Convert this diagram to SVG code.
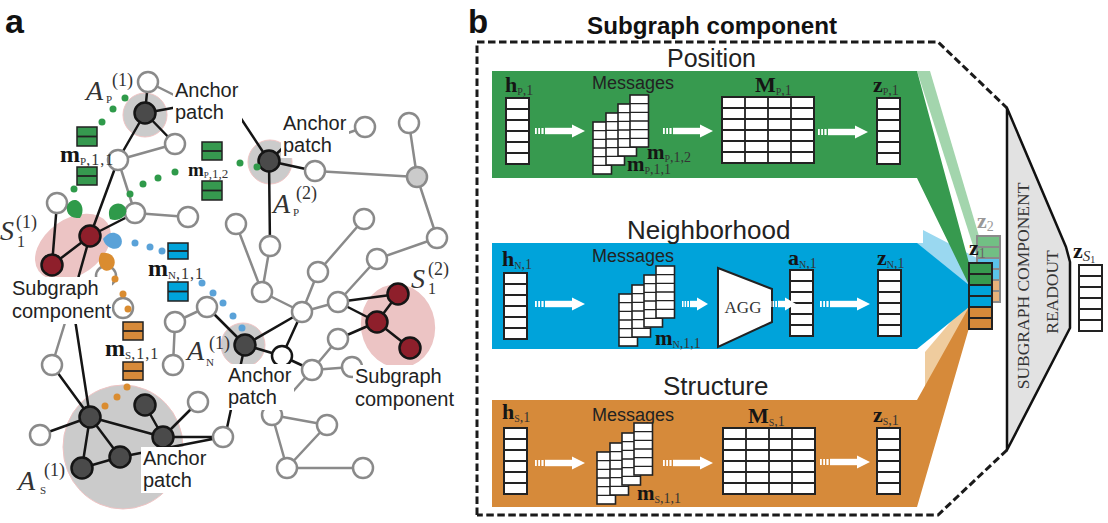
<svg xmlns="http://www.w3.org/2000/svg" width="1108" height="523" viewBox="0 0 1108 523">
<style>
.e{stroke:#8a8a8a;stroke-width:2.5;fill:none}
.k{stroke:#151515;stroke-width:2.5;fill:none}
.w{fill:#fff;stroke:#8a8a8a;stroke-width:2.5}
.wk{fill:#fff;stroke:#151515;stroke-width:2.5}
.g{fill:#cbcbcb;stroke:#8a8a8a;stroke-width:2.5}
.d{fill:#4a4a4a;stroke:#151515;stroke-width:2.5}
.r{fill:#8e1f2b;stroke:#151515;stroke-width:2.5}
.patch{fill:#cbcbcb;stroke:#efc4c4;stroke-width:1}
.pink{fill:#ecc4c4}
.lbl{font-family:"Liberation Sans",Arial,sans-serif;font-size:20px;fill:#222}
.bg{fill:#fff}
.mi{font-family:"Liberation Serif","Times New Roman",serif;font-style:italic;fill:#333}
.mr{font-family:"Liberation Serif","Times New Roman",serif;fill:#333}
.mb{font-family:"Liberation Serif","Times New Roman",serif;font-weight:bold;fill:#151515}
.sub{font-family:"Liberation Serif","Times New Roman",serif;font-weight:normal;fill:#333}
.gd{fill:#2f9a4a}.bd{fill:#5aa2d8}.od{fill:#da8c30}
.gb{fill:#36994f;stroke:#222;stroke-width:1.5}
.bb{fill:#00a3da;stroke:#222;stroke-width:1.5}
.ob{fill:#d68a3a;stroke:#222;stroke-width:1.5}
.cell{fill:#fff;stroke:#222;stroke-width:2}
.ln{stroke:#222;stroke-width:1.8;fill:none}
.sans{font-family:"Liberation Sans",Arial,sans-serif;fill:#222}
.arw{fill:#fff}
</style>
<defs>
<g id="vec"><rect class="cell" x="0" y="0" width="23" height="66"/><path class="ln" d="M0,11h23M0,22h23M0,33h23M0,44h23M0,55h23"/></g>
<g id="mat"><rect class="cell" x="0" y="0" width="92" height="66"/><path class="ln" d="M0,11h92M0,22h92M0,33h92M0,44h92M0,55h92M23,0v66M46,0v66M69,0v66"/></g>
<g id="col"><rect x="0" y="0" width="18.5" height="52" fill="#fff" stroke="#222" stroke-width="1.6"/><path d="M0,8.67h18.5M0,17.33h18.5M0,26h18.5M0,34.67h18.5M0,43.33h18.5" stroke="#222" stroke-width="1.4"/></g>
<g id="arr" class="arw"><rect x="0" y="-3" width="1.8" height="6"/><rect x="3.2" y="-3" width="1.8" height="6"/><rect x="6.4" y="-3" width="2.2" height="6"/><rect x="10" y="-3.2" width="28" height="6.4"/><path d="M37,-6.5L50,0L37,6.5Z"/></g>
<g id="arrs" class="arw"><rect x="0" y="-3" width="1.5" height="6"/><rect x="2.6" y="-3" width="1.5" height="6"/><rect x="5.2" y="-3" width="1.8" height="6"/><rect x="8" y="-3.2" width="8" height="6.4"/><path d="M15,-6.5L26,0L15,6.5Z"/></g>
<path id="leaf" d="M0,0 C-3,-7 -12,-10 -17,-6 C-22,-1 -18,8 -10,8 C-5,8 -2,4 0,0Z"/>
</defs>
<rect width="1108" height="523" fill="#fff"/>

<!-- ===== Panel a ===== -->
<text x="5" y="33" font-family="Liberation Sans,Arial,sans-serif" font-weight="bold" font-size="34" fill="#111">a</text>

<g id="patches">
<ellipse class="pink" cx="73" cy="247" rx="42" ry="28" transform="rotate(-35 73 247)"/>
<ellipse class="pink" cx="398" cy="326" rx="37" ry="42" transform="rotate(-10 398 326)"/>
<circle class="patch" cx="145" cy="115" r="22"/>
<circle class="patch" cx="270" cy="162" r="22"/>
<circle class="patch" cx="243" cy="345" r="22"/>
<ellipse class="patch" cx="123" cy="447" rx="60" ry="62"/>
</g>

<g id="connectors">
<path class="e" d="M148,82L178,97M118,160L175,144M118,160L135,213M135,213L188,217M236,224L262,292M270,246L262,292M262,292L302,312M302,312L338,302M302,312L318,272M318,272L364,219M377,259L338,302M377,259L437,238M437,238L417,177M417,177L409,123M417,177L315,171M365,127L345,134M312,370L338,339M312,370L352,367M312,370L272,415M272,415L327,425M272,415L287,468M327,425L287,468M287,468L363,468M207,307L175,322M175,322L173,365M72,300L52,365"/>
<path class="k" d="M148,82L145,113M145,113L175,144M145,113L118,160M145,113L178,107M118,160L90,236M90,236L135,213M90,236L52,265M57,203L52,265M269,161L238,114M269,161L288,143M269,161L315,171M269,161L270,246M245,345L302,312M245,345L282,356M282,356L302,312M245,345L207,307M282,356L312,370M245,345L225,437M338,302L398,294M338,302L377,322M398,294L377,322M377,322L410,348M338,339L377,322M90,236L72,300M72,300L90,417M90,417L52,365M90,417L40,435M90,417L82,468M90,417L120,457M90,417L163,437M145,405L163,437M163,437L198,402M120,457L82,468M163,437L223,437M120,457L223,437"/>
</g>

<g id="nodes">
<g id="n1"><circle class="w" cx="148" cy="82" r="10"/></g>
<g id="n2"><circle class="w" cx="175" cy="144" r="10"/></g>
<g id="n3"><circle class="w" cx="118" cy="160" r="10"/></g>
<g id="n4"><circle class="w" cx="57" cy="203" r="10"/></g>
<g id="n5"><circle class="w" cx="135" cy="213" r="10"/></g>
<g id="n6"><circle class="w" cx="188" cy="217" r="10"/></g>
<g id="n7"><circle class="w" cx="236" cy="224" r="10"/></g>
<g id="n8"><circle class="w" cx="365" cy="127" r="10"/></g>
<g id="n9"><circle class="w" cx="409" cy="123" r="10"/></g>
<g id="n10"><circle class="w" cx="315" cy="171" r="10"/></g>
<g id="n11"><circle class="g" cx="417" cy="177" r="10"/></g>
<g id="n12"><circle class="w" cx="270" cy="246" r="10"/></g>
<g id="n13"><circle class="w" cx="364" cy="219" r="10"/></g>
<g id="n14"><circle class="w" cx="437" cy="238" r="10"/></g>
<g id="n15"><circle class="w" cx="377" cy="259" r="10"/></g>
<g id="n16"><circle class="w" cx="318" cy="272" r="10"/></g>
<g id="n17"><circle class="w" cx="262" cy="292" r="10"/></g>
<g id="n18"><circle class="w" cx="302" cy="312" r="10"/></g>
<g id="n19"><circle class="w" cx="338" cy="302" r="10"/></g>
<g id="n20"><circle class="w" cx="338" cy="339" r="10"/></g>
<g id="n21"><circle class="wk" cx="282" cy="356" r="10"/></g>
<g id="n22"><circle class="w" cx="312" cy="370" r="10"/></g>
<g id="n23"><circle class="w" cx="352" cy="367" r="10"/></g>
<g id="n24"><circle class="w" cx="207" cy="307" r="10"/></g>
<g id="n25"><circle class="w" cx="175" cy="322" r="10"/></g>
<g id="n26"><circle class="w" cx="173" cy="365" r="10"/></g>
<g id="n27"><circle class="w" cx="52" cy="365" r="10"/></g>
<g id="n28"><circle class="w" cx="106" cy="276" r="10"/></g>
<g id="n29"><circle class="w" cx="123" cy="308" r="10"/></g>
<g id="n30"><circle class="w" cx="198" cy="402" r="10"/></g>
<g id="n31"><circle class="w" cx="40" cy="435" r="10"/></g>
<g id="n32"><circle class="w" cx="223" cy="437" r="10"/></g>
<g id="n33"><circle class="w" cx="272" cy="415" r="10"/></g>
<g id="n34"><circle class="w" cx="327" cy="425" r="10"/></g>
<g id="n35"><circle class="w" cx="287" cy="468" r="10"/></g>
<g id="n36"><circle class="w" cx="363" cy="468" r="10"/></g>
<g id="anchorP1"><circle class="d" cx="145" cy="113" r="10.5"/></g>
<g id="anchorP2"><circle class="d" cx="269" cy="161" r="10.5"/></g>
<g id="anchorN1"><circle class="d" cx="245" cy="345" r="10.5"/></g>
<g id="anchorS1a"><circle class="d" cx="90" cy="417" r="10.5"/></g>
<g id="anchorS1b"><circle class="d" cx="145" cy="405" r="10.5"/></g>
<g id="anchorS1c"><circle class="d" cx="163" cy="437" r="10.5"/></g>
<g id="anchorS1d"><circle class="d" cx="120" cy="457" r="10.5"/></g>
<g id="anchorS1e"><circle class="d" cx="82" cy="468" r="10.5"/></g>
<g id="sub1a"><circle class="r" cx="90" cy="236" r="10.5"/></g>
<g id="sub1b"><circle class="r" cx="52" cy="265" r="10.5"/></g>
<g id="sub2a"><circle class="r" cx="398" cy="294" r="10.5"/></g>
<g id="sub2b"><circle class="r" cx="377" cy="322" r="10.5"/></g>
<g id="sub2c"><circle class="r" cx="410" cy="348" r="10.5"/></g>
</g>

<g id="labels-a">
<rect class="bg" x="173" y="79" width="69" height="46"/>
<text class="lbl" x="175" y="97">Anchor</text><text class="lbl" x="175" y="119">patch</text>
<rect class="bg" x="281" y="112" width="68" height="46"/>
<text class="lbl" x="283" y="130">Anchor</text><text class="lbl" x="283" y="152">patch</text>
<rect class="bg" x="226" y="364" width="68" height="46"/>
<text class="lbl" x="228" y="382">Anchor</text><text class="lbl" x="228" y="404">patch</text>
<rect class="bg" x="141" y="447" width="68" height="46"/>
<text class="lbl" x="143" y="465">Anchor</text><text class="lbl" x="143" y="487">patch</text>
<rect class="bg" x="10" y="277" width="102" height="47"/>
<text class="lbl" x="12" y="295">Subgraph</text><text class="lbl" x="12" y="318">component</text>
<rect class="bg" x="353" y="365" width="102" height="47"/>
<text class="lbl" x="355" y="383">Subgraph</text><text class="lbl" x="355" y="406">component</text>

<text class="mi" x="86" y="100" font-size="28">A</text><text class="mr" x="106" y="103" font-size="11">P</text><text class="mr" x="112" y="86" font-size="18">(1)</text>
<text class="mi" x="273" y="213" font-size="28">A</text><text class="mr" x="293" y="216" font-size="11">P</text><text class="mr" x="296" y="199" font-size="18">(2)</text>
<text class="mi" x="187" y="360" font-size="28">A</text><text class="mr" x="206" y="366" font-size="11">N</text><text class="mr" x="209" y="349" font-size="18">(1)</text>
<text class="mi" x="18" y="490" font-size="28">A</text><text class="mr" x="40" y="494" font-size="11">S</text><text class="mr" x="44" y="476" font-size="18">(1)</text>
<text class="mi" x="0" y="240" font-size="28">S</text><text class="mr" x="17" y="247" font-size="16">1</text><text class="mr" x="16" y="228" font-size="18">(1)</text>
<text class="mi" x="411" y="288" font-size="28">S</text><text class="mr" x="428" y="294" font-size="16">1</text><text class="mr" x="428" y="275" font-size="18">(2)</text>
</g>

<g id="messages-a">
<use href="#leaf" class="gd" transform="translate(80,218) rotate(60)"/>
<use href="#leaf" class="gd" transform="translate(110,219) rotate(136)"/>
<use href="#leaf" class="bd" transform="translate(103,239) rotate(190)"/>
<use href="#leaf" class="od" transform="translate(101,253) rotate(237)"/>
<g class="gd"><circle cx="125" cy="98" r="3.5"/><circle cx="113" cy="109" r="3.5"/><circle cx="102" cy="122" r="3.5"/><circle cx="74" cy="189" r="3.5"/>
<circle cx="257" cy="167" r="3.5"/><circle cx="240" cy="163" r="3.5"/><circle cx="175" cy="172" r="3.5"/><circle cx="158" cy="178" r="3.5"/><circle cx="143" cy="184" r="3.5"/><circle cx="130" cy="194" r="3.5"/></g>
<g class="bd"><circle cx="135" cy="243" r="3.5"/><circle cx="150" cy="247" r="3.5"/><circle cx="162" cy="251" r="3.5"/><circle cx="202" cy="283" r="3.5"/><circle cx="213" cy="293" r="3.5"/><circle cx="223" cy="303" r="3.5"/><circle cx="233" cy="316" r="3.5"/><circle cx="242" cy="328" r="3.5"/></g>
<g class="od"><circle cx="115" cy="279" r="3.5"/><circle cx="123" cy="294" r="3.5"/><circle cx="128" cy="309" r="3.5"/><circle cx="127" cy="387" r="3.5"/><circle cx="117" cy="397" r="3.5"/><circle cx="105" cy="406" r="3.5"/></g>
<rect class="gb" x="77" y="127" width="20" height="19"/><path class="ln" d="M77,136.5h20"/>
<rect class="gb" x="77" y="167" width="20" height="18"/><path class="ln" d="M77,176h20"/>
<rect class="gb" x="202" y="142" width="20" height="18"/><path class="ln" d="M202,151h20"/>
<rect class="gb" x="202" y="181" width="20" height="19"/><path class="ln" d="M202,190.5h20"/>
<rect class="bb" x="168" y="243" width="20" height="16"/><path class="ln" d="M168,251h20"/>
<rect class="bb" x="168" y="282" width="20" height="19"/><path class="ln" d="M168,291.5h20"/>
<rect class="ob" x="123" y="322" width="20" height="18"/><path class="ln" d="M123,331h20"/>
<rect class="ob" x="123" y="362" width="20" height="18"/><path class="ln" d="M123,371h20"/>
<text class="mb" x="60" y="162" font-size="24">m<tspan class="sub" font-size="11" dy="3">P</tspan><tspan class="sub" font-size="16" letter-spacing="1">,1,1</tspan></text>
<text class="mb" x="188" y="176" font-size="19">m<tspan class="sub" font-size="9" dy="2">P</tspan><tspan class="sub" font-size="13">,1,2</tspan></text>
<text class="mb" x="148" y="276" font-size="24">m<tspan class="sub" font-size="11" dy="3">N</tspan><tspan class="sub" font-size="16" letter-spacing="1">,1,1</tspan></text>
<text class="mb" x="105" y="356" font-size="24">m<tspan class="sub" font-size="11" dy="3">S</tspan><tspan class="sub" font-size="16" letter-spacing="1">,1,1</tspan></text>
</g>

<!-- ===== Panel b ===== -->
<text x="468" y="33" font-family="Liberation Sans,Arial,sans-serif" font-weight="bold" font-size="33" fill="#111">b</text>
<text x="587" y="34" font-family="Liberation Sans,Arial,sans-serif" font-weight="bold" font-size="23" fill="#111" textLength="250" lengthAdjust="spacingAndGlyphs">Subgraph component</text>

<g id="readout">
<polygon points="1007,108 1066,247 1070,262 1070,328 1007,450" fill="#e2e2e2" stroke="#111" stroke-width="2.5" stroke-linejoin="round"/>
<text class="mr" font-size="17.5" text-anchor="middle" transform="translate(1029,286) rotate(-90)">SUBGRAPH COMPONENT</text>
<text class="mr" font-size="17.5" text-anchor="middle" transform="translate(1058,292) rotate(-90)">READOUT</text>
</g>
<path id="border" d="M477,515V42H938L1007,108M1007,450L938,515H477" fill="none" stroke="#1a1a1a" stroke-width="3" stroke-dasharray="7.5 3.5"/>

<g id="shadows">
<polygon points="917,71 930,71 979,236 977,258" fill="#a3d5ad"/>
<polygon points="923,230 977,258 977,280 969,290 917,260 917,243 923,243" fill="#9ad8f0"/>
<polygon points="925,392 925,352 977,291 977,302" fill="#efcc9e"/>
</g>

<g id="band-position">
<path d="M492,71H917L969,263V285L917,178H492Z" fill="#379a4f"/>
<text class="sans" x="667" y="67" font-size="25">Position</text>
</g>
<g id="band-neighborhood">
<path d="M492,243H917L969,285V307L917,349H492Z" fill="#00a3da"/>
<text class="sans" x="627" y="239" font-size="26">Neighborhood</text>
</g>
<g id="band-structure">
<path d="M492,400H917L969,307V328L917,507H492Z" fill="#d68a3a"/>
<text class="sans" x="663" y="395" font-size="26">Structure</text>
</g>

<g id="pos-items">
<text class="mb" x="505" y="92" font-size="22">h<tspan class="sub" font-size="10" dy="3">P</tspan><tspan class="sub" font-size="14">,1</tspan></text>
<use href="#vec" x="506" y="98"/>
<text class="sans" x="592" y="89" font-size="18">Messages</text>
<use href="#col" x="593" y="122"/><use href="#col" x="606" y="113"/><use href="#col" x="618" y="104"/><use href="#col" x="630" y="95"/>
<text class="mb" x="647" y="159" font-size="21">m<tspan class="sub" font-size="10" dy="3">P</tspan><tspan class="sub" font-size="14">,1,2</tspan></text>
<text class="mb" x="627" y="171" font-size="21">m<tspan class="sub" font-size="10" dy="3">P</tspan><tspan class="sub" font-size="14">,1,1</tspan></text>
<text class="mb" x="755" y="92" font-size="22">M<tspan class="sub" font-size="10" dy="3">P</tspan><tspan class="sub" font-size="14">,1</tspan></text>
<use href="#mat" x="722" y="97"/>
<text class="mb" x="873" y="92" font-size="22">z<tspan class="sub" font-size="10" dy="3">P</tspan><tspan class="sub" font-size="14">,1</tspan></text>
<use href="#vec" x="877" y="98"/>
</g>

<g id="nb-items">
<text class="mb" x="502" y="266" font-size="22">h<tspan class="sub" font-size="10" dy="3">N</tspan><tspan class="sub" font-size="14">,1</tspan></text>
<use href="#vec" x="504" y="273"/>
<text class="sans" x="592" y="262" font-size="18">Messages</text>
<use href="#col" x="619" y="294"/><use href="#col" x="632" y="285"/><use href="#col" x="644" y="275"/><use href="#col" x="656" y="266"/>
<text class="mb" x="655" y="345" font-size="21">m<tspan class="sub" font-size="10" dy="3">N</tspan><tspan class="sub" font-size="14">,1,1</tspan></text>
<g id="agg"><polygon points="718,268 772,289 772,322 718,347" fill="#fff" stroke="#222" stroke-width="2"/>
<text class="mr" x="743" y="313" font-size="17" text-anchor="middle" fill="#222">AGG</text></g>
<text class="mb" x="788" y="265" font-size="22">a<tspan class="sub" font-size="10" dy="3">N</tspan><tspan class="sub" font-size="14">,1</tspan></text>
<use href="#vec" x="790" y="270"/>
<text class="mb" x="877" y="265" font-size="22">z<tspan class="sub" font-size="10" dy="3">N</tspan><tspan class="sub" font-size="14">,1</tspan></text>
<use href="#vec" x="878" y="270"/>
</g>

<g id="st-items">
<text class="mb" x="502" y="419" font-size="22">h<tspan class="sub" font-size="10" dy="3">S</tspan><tspan class="sub" font-size="14">,1</tspan></text>
<use href="#vec" x="504" y="428"/>
<text class="sans" x="592" y="421" font-size="18">Messages</text>
<use href="#col" x="597" y="452"/><use href="#col" x="610" y="443"/><use href="#col" x="622" y="433"/><use href="#col" x="634" y="423"/>
<text class="mb" x="637" y="500" font-size="21">m<tspan class="sub" font-size="10" dy="3">S</tspan><tspan class="sub" font-size="14">,1,1</tspan></text>
<text class="mb" x="748" y="423" font-size="22">M<tspan class="sub" font-size="10" dy="3">S</tspan><tspan class="sub" font-size="14">,1</tspan></text>
<use href="#mat" x="723" y="428"/>
<text class="mb" x="873" y="422" font-size="22">z<tspan class="sub" font-size="10" dy="3">S</tspan><tspan class="sub" font-size="14">,1</tspan></text>
<use href="#vec" x="877" y="428"/>
</g>

<g id="arrows">
<use href="#arr" x="535" y="131"/><use href="#arr" x="663" y="131"/><use href="#arr" x="818" y="132"/>
<use href="#arr" x="535" y="304"/><use href="#arrs" x="682" y="304"/><use href="#arrs" x="770" y="304"/><use href="#arr" x="820" y="304"/>
<use href="#arr" x="535" y="463"/><use href="#arr" x="663" y="463"/><use href="#arr" x="820" y="462"/>
</g>

<g id="z2">
<text class="mb" x="977" y="228" font-size="22" fill="#999" style="fill:#999">z<tspan class="sub" font-size="14" dy="3" style="fill:#999">2</tspan></text>
<rect x="977" y="236" width="23" height="11" fill="#72bf84"/><rect x="977" y="247" width="23" height="11" fill="#72bf84"/>
<rect x="977" y="258" width="23" height="11" fill="#5bc3ea"/><rect x="977" y="269" width="23" height="11" fill="#5bc3ea"/>
<rect x="977" y="280" width="23" height="11" fill="#e8b27a"/><rect x="977" y="291" width="23" height="11" fill="#e8b27a"/>
<path d="M977,236h23v66h-23zM977,247h23M977,258h23M977,269h23M977,280h23M977,291h23" fill="none" stroke="#8a8a8a" stroke-width="2"/>
</g>
<g id="z1">
<rect x="969" y="263" width="23" height="11" fill="#379a4f"/><rect x="969" y="274" width="23" height="11" fill="#379a4f"/>
<rect x="969" y="285" width="23" height="11" fill="#00a3da"/><rect x="969" y="296" width="23" height="11" fill="#00a3da"/>
<rect x="969" y="307" width="23" height="11" fill="#d68a3a"/><rect x="969" y="318" width="23" height="11" fill="#d68a3a"/>
<path d="M969,263h23v66h-23zM969,274h23M969,285h23M969,296h23M969,307h23M969,318h23" fill="none" stroke="#222" stroke-width="2"/>
<text class="mb" x="969" y="255" font-size="22">z<tspan class="sub" font-size="14" dy="3" style="fill:#666">1</tspan></text>
</g>
<g id="zS1">
<text class="mb" x="1073" y="258" font-size="22">z<tspan class="mi" font-size="15" dy="3" font-weight="normal">S</tspan><tspan class="sub" font-size="10" dy="2">1</tspan></text>
<use href="#vec" x="1079" y="265"/>
</g>
</svg>
